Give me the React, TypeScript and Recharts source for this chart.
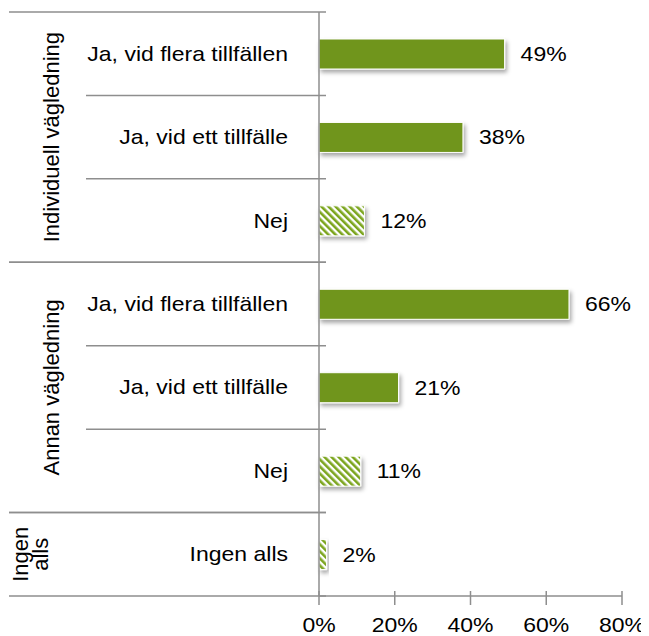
import React from 'react';
import { BarChart, Bar, XAxis, YAxis, LabelList, Cell } from 'recharts';

const groups = ['Individuell vägledning', 'Annan vägledning', 'Ingen alls'];
const categories = [
  'Ja, vid flera tillfällen',
  'Ja, vid ett tillfälle',
  'Nej',
  'Ja, vid flera tillfällen',
  'Ja, vid ett tillfälle',
  'Nej',
  'Ingen alls',
];
const categoryGroup = [0, 0, 0, 1, 1, 1, 2];
const values = [49, 38, 12, 66, 21, 11, 2];
const hatched = [false, false, true, false, false, true, true];
const xTicks = [0, 20, 40, 60, 80];

const data = categories.map((label, i) => ({
  key: String(i),
  label,
  value: values[i],
}));

const W = 641;
const H = 628;
const M = { top: 4, right: 27, left: 0, bottom: 0 };
const Y_AXIS_W = 311;
const X_AXIS_H = 40;
const BAND = (H - M.top - M.bottom - X_AXIS_H) / categories.length;

const GRID = '#8e8e8e';
const GREEN = '#6f951a';
const FONT = 'Arial, "Liberation Sans", sans-serif';

// horizontal text in the original is a bit wider than tall
const StretchText = ({ x, y, anchor, children }: any) => (
  <text
    transform={`translate(${x},${y}) scale(1.15,1)`}
    textAnchor={anchor}
    fontSize={20}
    fontFamily={FONT}
    fill="#000"
  >
    {children}
  </text>
);

const isGroupStart = (i: number) => i === 0 || categoryGroup[i] !== categoryGroup[i - 1];
const isGroupEnd = (i: number) =>
  i === categories.length - 1 || categoryGroup[i] !== categoryGroup[i + 1];

const CategoryTick = (props: any) => {
  const { x, y, payload } = props;
  const i = parseInt(payload.value, 10);
  const top = y - BAND / 2;
  const bottom = y + BAND / 2;
  const g = categoryGroup[i];
  const members = categoryGroup.map((v, k) => (v === g ? k : -1)).filter((k) => k >= 0);
  const mid = members[Math.floor(members.length / 2)];
  const odd = members.length % 2 === 1;
  const groupWords = groups[g].split(' ');
  const twoLine = members.length === 1;
  return (
    <g>
      <line
        x1={isGroupStart(i) ? 1 : 78}
        x2={x + 7}
        y1={top}
        y2={top}
        stroke={GRID}
        strokeWidth={1.5}
      />
      {isGroupEnd(i) && (
        <line x1={1} x2={x + 7} y1={bottom} y2={bottom} stroke={GRID} strokeWidth={1.5} />
      )}
      <StretchText x={x - 31} y={y + 7} anchor="end">
        {categories[i]}
      </StretchText>
      {i === mid && odd && (
        <text
          transform={`translate(${twoLine ? 20 : 51},${y}) rotate(-90)`}
          textAnchor="middle"
          fontSize={22}
          fontFamily={FONT}
          fill="#000"
        >
          {twoLine ? (
            groupWords.map((w, k) => (
              <tspan key={k} x={0} dy={k === 0 ? 0 : 20}>
                {w}
              </tspan>
            ))
          ) : (
            groups[g]
          )}
        </text>
      )}
    </g>
  );
};

const ValueTick = (props: any) => {
  const { x, y, payload } = props;
  return (
    <g>
      <line x1={x} x2={x} y1={y - 5} y2={y + 9} stroke={GRID} strokeWidth={1.5} />
      <StretchText x={x} y={y + 36} anchor="middle">
        {`${payload.value}%`}
      </StretchText>
    </g>
  );
};

const ValueLabel = (props: any) => {
  const { x, y, width, height, value } = props;
  return (
    <StretchText x={x + width + 16} y={y + height / 2 + 7} anchor="start">
      {`${value}%`}
    </StretchText>
  );
};

export default function App() {
  return (
    <BarChart width={W} height={H} data={data} layout="vertical" margin={M} barCategoryGap={0}>
      <defs>
        <pattern
          id="hatch"
          width={5}
          height={5}
          patternUnits="userSpaceOnUse"
          patternTransform="rotate(-45)"
        >
          <rect width={5} height={5} fill="#ffffff" />
          <rect width={2.6} height={5} fill="#7ba51f" />
        </pattern>
        <filter id="shadow" x="-20%" y="-30%" width="140%" height="180%">
          <feDropShadow dx={2} dy={3} stdDeviation={2} floodColor="#000" floodOpacity={0.35} />
        </filter>
      </defs>
      <XAxis
        type="number"
        domain={[0, 80]}
        ticks={xTicks}
        height={X_AXIS_H}
        axisLine={{ stroke: GRID, strokeWidth: 1.5 }}
        tickLine={false}
        tickSize={0}
        tickMargin={0}
        tick={<ValueTick />}
        interval={0}
      />
      <YAxis
        type="category"
        dataKey="key"
        width={Y_AXIS_W}
        axisLine={{ stroke: GRID, strokeWidth: 1.5 }}
        tickLine={false}
        tickSize={0}
        tickMargin={0}
        tick={<CategoryTick />}
        interval={0}
      />
      <Bar dataKey="value" barSize={30} isAnimationActive={false} filter="url(#shadow)">
        {data.map((d, i) => (
          <Cell
            key={d.key}
            fill={hatched[i] ? 'url(#hatch)' : GREEN}
            stroke="#ffffff"
            strokeWidth={1}
          />
        ))}
        <LabelList dataKey="value" content={<ValueLabel />} />
      </Bar>
    </BarChart>
  );
}
